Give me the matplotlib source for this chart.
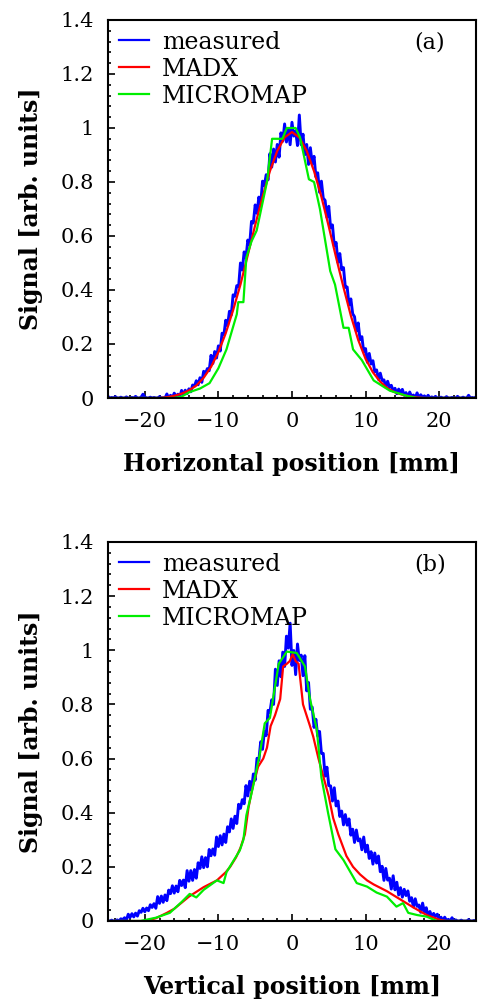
import numpy as np
import matplotlib
matplotlib.use("Agg")
import matplotlib.pyplot as plt
from matplotlib.ticker import MultipleLocator

plt.rcParams['font.family'] = 'DejaVu Serif'
plt.rcParams['mathtext.fontset'] = 'dejavuserif'

# measured profiles are sampled every 0.25 mm from -25 to 25 mm
xm = np.arange(-25, 25.001, 0.25)

# ---- panel (a): horizontal profile ----
meas_a = [0.006, 0.0, 0.002, 0.0, 0.005, 0.0, 0.0, 0.003, 0.0, 0.0,
          0.004, 0.0, 0.0, 0.002, 0.0, 0.006, 0.0, 0.0, 0.003, 0.014,
          0.004, 0.0, 0.0, 0.003, 0.0, 0.002, 0.0, 0.0, 0.005, 0.0,
          0.001, 0.0,
          0.015, 0.0, 0.010, 0.0, 0.018, 0.006, 0.014, 0.003, 0.028, 0.013,
          0.029, 0.016, 0.034, 0.023, 0.048, 0.044, 0.064, 0.049, 0.075, 0.058,
          0.099, 0.090, 0.109, 0.101, 0.158, 0.128, 0.172, 0.148, 0.193, 0.174,
          0.240, 0.234, 0.288, 0.268, 0.321, 0.307, 0.382, 0.377, 0.416, 0.412,
          0.500, 0.474, 0.541, 0.519, 0.585, 0.567, 0.654, 0.648, 0.715, 0.684,
          0.744, 0.717, 0.803, 0.787, 0.827, 0.808, 0.905, 0.855, 0.922, 0.874,
          0.939, 0.892, 0.982, 0.951, 1.015, 0.948, 0.998, 0.938, 1.021, 0.970,
          0.989, 0.935, 1.048, 0.938, 0.977, 0.901, 0.939, 0.865, 0.927, 0.868,
          0.895, 0.819, 0.834, 0.762, 0.803, 0.740, 0.732, 0.669, 0.710, 0.630,
          0.641, 0.564, 0.576, 0.502, 0.535, 0.475, 0.483, 0.410, 0.411, 0.344,
          0.367, 0.312, 0.301, 0.247, 0.278, 0.216, 0.227, 0.170, 0.183, 0.132,
          0.165, 0.126, 0.138, 0.097, 0.104, 0.069, 0.092, 0.065, 0.067, 0.040,
          0.062, 0.039, 0.047, 0.026, 0.036, 0.016, 0.033, 0.020, 0.032, 0.010,
          0.020, 0.001, 0.022, 0.006, 0.011, 0.0, 0.019,
          0.0, 0.012, 0.003, 0.008, 0.0, 0.01, 0.0, 0.004, 0.0, 0.006,
          0.0, 0.0, 0.003, 0.0, 0.0, 0.005, 0.0, 0.0, 0.002, 0.0,
          0.0, 0.006, 0.0, 0.0, 0.003, 0.0, 0.0, 0.01, 0.0, 0.002,
          0.0, 0.004]

x_madx_a = np.arange(-25, 26, 1)
madx_a = [0, 0, 0, 0, 0, 0, 0, 0, 0.003, 0.008, 0.016, 0.028, 0.046, 0.075,
          0.115, 0.17, 0.24, 0.325, 0.42, 0.53, 0.64, 0.745, 0.84, 0.915,
          0.965, 0.985, 0.965, 0.915, 0.84, 0.745, 0.635, 0.52, 0.41, 0.305,
          0.215, 0.145, 0.095, 0.06, 0.036, 0.021, 0.012, 0.006, 0.002,
          0, 0, 0, 0, 0, 0, 0, 0]

x_micro_a = [-25, -16, -15, -13.9, -12.5, -11.2, -10, -8.9, -7.5, -7.3, -6.6,
             -6.2, -5.5, -4.8, -3.4, -2.7, -1.3, -0.7, 0.5, 1.1, 2.3, 3.0,
             3.8, 5.2, 5.85, 7.0, 7.7, 8.3, 9.5, 11.1, 13.3, 15.6, 17, 25]
micro_a = [0, 0, 0.005, 0.022, 0.035, 0.055, 0.11, 0.18, 0.31, 0.355, 0.355,
           0.52, 0.58, 0.62, 0.80, 0.96, 0.96, 1.0, 1.0, 0.965, 0.81, 0.80,
           0.70, 0.47, 0.42, 0.26, 0.26, 0.18, 0.14, 0.065, 0.027, 0.008, 0, 0]

# ---- panel (b): vertical profile ----
meas_b = [0.0, 0.0, 0.003, 0.0, 0.0, 0.004, 0.0, 0.008,
          0.005, 0.012, 0.003, 0.025, 0.013, 0.027, 0.015, 0.029, 0.018, 0.038,
          0.032, 0.047, 0.034, 0.048, 0.038, 0.060, 0.050, 0.064, 0.047, 0.090,
          0.065, 0.092, 0.069, 0.096, 0.075, 0.114, 0.101, 0.130, 0.103, 0.129,
          0.108, 0.150, 0.131, 0.151, 0.123, 0.186, 0.147, 0.186, 0.150, 0.190,
          0.158, 0.215, 0.194, 0.237, 0.197, 0.234, 0.200, 0.264, 0.241, 0.266,
          0.243, 0.310, 0.275, 0.315, 0.281, 0.321, 0.290, 0.348, 0.329, 0.377,
          0.342, 0.387, 0.360, 0.431, 0.416, 0.448, 0.433, 0.500, 0.462, 0.516,
          0.482, 0.543, 0.520, 0.601, 0.593, 0.662, 0.634, 0.701, 0.685, 0.778,
          0.770, 0.817, 0.800, 0.930, 0.870, 0.961, 0.902, 0.993, 0.940, 1.052,
          1.008, 1.100, 0.944, 0.999, 0.910, 1.023, 0.962, 0.982, 0.906, 0.980,
          0.850, 0.881, 0.782, 0.790, 0.715, 0.745, 0.683, 0.700, 0.619, 0.619,
          0.535, 0.568, 0.500, 0.499, 0.443, 0.492, 0.425, 0.443, 0.386, 0.406,
          0.355, 0.393, 0.354, 0.377, 0.317, 0.339, 0.290, 0.336, 0.296, 0.303,
          0.263, 0.310, 0.255, 0.280, 0.231, 0.256, 0.210, 0.251, 0.214, 0.240,
          0.182, 0.202, 0.150, 0.194, 0.151, 0.158, 0.118, 0.167, 0.115, 0.143,
          0.096, 0.123, 0.088, 0.117, 0.094, 0.111, 0.073, 0.086, 0.052, 0.082,
          0.054, 0.059, 0.032, 0.066, 0.032, 0.049, 0.017, 0.035, 0.015, 0.028,
          0.016, 0.025, 0.006, 0.014, 0.0, 0.014, 0.002, 0.006, 0.0, 0.012,
          0.0,
          0.004, 0.0, 0.0, 0.003, 0.0, 0.0, 0.0, 0.005, 0.0, 0.0, 0.002, 0.0]

x_madx_b = [-25, -20, -18.5, -17, -16, -14, -12, -10.2, -9, -8.4, -7.6, -7.0,
            -6.4, -5.9, -5.3, -4.6, -3.9, -3.4, -2.9, -2.3, -1.6, -1.2, -0.7,
            -0.3, 0.1, 0.5, 0.9, 1.5, 2.45, 2.9, 3.6, 4.3, 5.0, 5.6, 6.3, 7.4,
            8.3, 9.25, 10.2, 11.1, 12.9, 14.7, 16.5, 18.3, 20.1, 21, 25]
madx_b = [0, 0, 0.01, 0.03, 0.045, 0.09, 0.125, 0.15, 0.18, 0.2, 0.235, 0.27,
          0.32, 0.42, 0.5, 0.57, 0.60, 0.64, 0.72, 0.76, 0.82, 0.94, 0.95,
          0.96, 0.985, 0.96, 0.95, 0.80, 0.72, 0.68, 0.6, 0.53, 0.46, 0.38,
          0.32, 0.24, 0.2, 0.172, 0.15, 0.135, 0.11, 0.08, 0.05, 0.022,
          0.004, 0, 0]

x_micro_b = [-25, -20.6, -18.5, -16.6, -15, -13.9, -13.0, -12, -10.2, -9.3,
             -8.9, -7.1, -6.6, -6.2, -5.3, -4.35, -3.7, -3.0, -1.8, -0.7, 0.64,
             1.77, 2.45, 3.36, 4.0, 4.9, 5.9, 7.0, 8.8, 10.2, 11.5, 12.9, 14.2,
             15.1, 15.8, 17.0, 18.3, 19.7, 25]
micro_b = [0, 0, 0.012, 0.03, 0.07, 0.1, 0.087, 0.115, 0.15, 0.14, 0.18, 0.26,
           0.3, 0.39, 0.495, 0.62, 0.73, 0.75, 0.95, 0.995, 0.99, 0.94, 0.82,
           0.71, 0.53, 0.40, 0.265, 0.225, 0.14, 0.127, 0.105, 0.09, 0.053,
           0.066, 0.03, 0.022, 0.016, 0, 0]

xticks = [-20, -10, 0, 10, 20]
xticklabels = ['\u221220', '\u221210', '0', '10', '20']
yticks = [0, 0.2, 0.4, 0.6, 0.8, 1, 1.2, 1.4]
yticklabels = ['0', '0.2', '0.4', '0.6', '0.8', '1', '1.2', '1.4']

fig = plt.figure(figsize=(4.88, 9.99), dpi=100)
ax_a = fig.add_axes([0.2213, 0.6016, 0.754, 0.3784])
ax_b = fig.add_axes([0.2213, 0.0781, 0.754, 0.3794])

panels = [
    (ax_a, meas_a, x_madx_a, madx_a, x_micro_a, micro_a, 'Horizontal position [mm]', '(a)'),
    (ax_b, meas_b, x_madx_b, madx_b, x_micro_b, micro_b, 'Vertical position [mm]', '(b)'),
]

for ax, meas, xr, madx, xg, micro, xlabel, tag in panels:
    ax.plot(xm, meas, color='#0000ff', lw=2.1, label='measured')
    ax.plot(xr, madx, color='#ff0000', lw=1.6, label='MADX')
    ax.plot(xg, micro, color='#00ee00', lw=1.6, label='MICROMAP')
    ax.set_xlim(-25, 25)
    ax.set_ylim(0, 1.4)
    ax.set_xticks(xticks)
    ax.set_xticklabels(xticklabels)
    ax.set_yticks(yticks)
    ax.set_yticklabels(yticklabels)
    ax.xaxis.set_minor_locator(MultipleLocator(2))
    ax.yaxis.set_minor_locator(MultipleLocator(0.04))
    ax.tick_params(which='both', direction='in', top=False, right=False,
                   labelsize=15, width=1.2)
    ax.tick_params(which='major', length=5, pad=10)
    ax.tick_params(which='minor', length=2.5)
    for s in ax.spines.values():
        s.set_linewidth(1.5)
    ax.set_xlabel(xlabel, fontweight='bold', fontsize=17)
    ax.set_ylabel('Signal [arb. units]', fontweight='bold', fontsize=17)
    ax.xaxis.set_label_coords(0.5, -0.142)
    ax.yaxis.set_label_coords(-0.176, 0.5)
    leg = ax.legend(loc='upper left', frameon=False, fontsize=17,
                    handlelength=1.3, handletextpad=0.55, labelspacing=0.17,
                    borderaxespad=0.2, borderpad=0.25)
    for h in leg.get_lines():
        h.set_linewidth(1.6)
    ax.text(0.875, 0.94, tag, transform=ax.transAxes, fontsize=16,
            ha='center', va='center')

fig.savefig('out.png', dpi=100)
